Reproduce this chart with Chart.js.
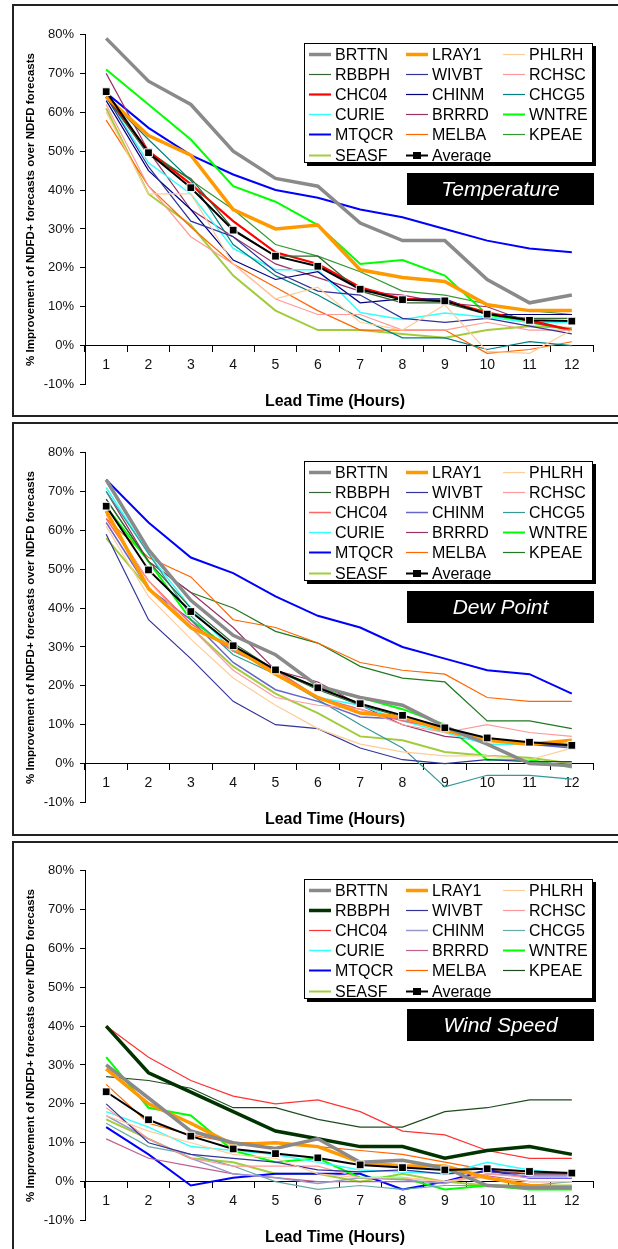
<!DOCTYPE html>
<html>
<head>
<meta charset="utf-8">
<script src="https://cdn.jsdelivr.net/npm/chart.js@4.4.1/dist/chart.umd.min.js"></script>
<style>
    html, body { margin: 0; padding: 0; background: #fff; width: 618px; height: 1249px; overflow: hidden; position: relative; }
    .panel { position: absolute; left: 12px; width: 700px; border: 2px solid #222; box-sizing: border-box; }
    canvas { position: absolute; left: 0; }
</style>
</head>
<body>
<div class="panel" style="top:4px;height:413px"></div>
<div class="panel" style="top:422px;height:414px"></div>
<div class="panel" style="top:841px;height:430px"></div>
<canvas id="temp" width="618" height="418" style="top:5px"></canvas>
<canvas id="dew" width="618" height="418" style="top:423px"></canvas>
<canvas id="wind" width="618" height="418" style="top:841px"></canvas>
<script>
const leadTimes = ['1', '2', '3', '4', '5', '6', '7', '8', '9', '10', '11', '12'];
const stations = ['BRTTN', 'LRAY1', 'PHLRH', 'RBBPH', 'WIVBT', 'RCHSC', 'CHC04', 'CHINM',
                  'CHCG5', 'CURIE', 'BRRRD', 'WNTRE', 'MTQCR', 'MELBA', 'KPEAE', 'SEASF'];
const yMin = -10, yMax = 80, yStep = 10;

// one row per station, same order as `stations`
const temperatureSeries = [
    [79, 68, 62, 50, 43, 41, 31.5, 27, 27, 17, 11, 13],
    [64, 54, 49, 35, 30, 31, 19.5, 17.5, 16.5, 10.5, 9, 9],
    [60, 39, 39, 21, 12, 15, 6, 4, 10.5, -1.5, -2, 4],
    [64, 49, 43, 30, 23, 23, 14, 11, 11, 8, 7, 7],
    [64, 46, 32, 28, 19, 14, 13, 7, 6, 7, 5, 3],
    [62, 41, 28, 21, 12, 8, 8, 4, 4, 6, 4, 4],
    [64, 50, 41.5, 32, 24, 21, 15, 12, 11.5, 8.5, 6.5, 4],
    [63, 45, 35, 22, 17, 19, 11, 12, 12, 8, 8, 8],
    [64, 53, 42.5, 26, 18, 13, 7, 2, 2, -1, 1, 0],
    [64, 47, 39, 25, 19.5, 19.5, 8.5, 6.7, 8.4, 7.3, 6, 6],
    [70, 50, 35, 28, 21, 17.5, 14, 13, 11, 10, 6, 4],
    [71, 62, 53, 41, 37, 31, 21, 22, 18, 8, 6, 4],
    [65, 56, 49, 44, 40, 38, 35, 33, 30, 27, 25, 24],
    [58, 41, 30.5, 21, 15, 9, 4, 4, 4, -2, -1, 1],
    [64, 50, 42.5, 35, 26, 23, 19, 14, 13, 10.7, 9, 8],
    [61, 39, 31, 18, 9, 4, 4, 3, 2, 4, 5, 4.5]
];
const temperatureAverage = [65.3, 49.6, 40.6, 29.7, 23, 20.4, 14.5, 11.8, 11.5, 8.1, 6.5, 6.3];

const dewPointSeries = [
    [73, 55, 42, 33, 28, 20, 17, 15, 9.5, 5, 0, -0.5],
    [65, 45, 35, 30, 23, 17, 13, 12, 8.5, 6, 5, 6],
    [61, 43, 32, 22, 15, 9, 5, 3, 2, 2, 1, 4],
    [68, 52, 40, 31, 24, 19, 15, 12, 9, 6, 5, 4.5],
    [59, 37, 27, 16, 10, 9, 4, 1, 0, 1, 0.5, 0.5],
    [64, 47, 35, 24, 17, 15, 14, 10, 8, 10, 8, 7],
    [63, 47, 36, 29, 24, 17, 14, 11, 9, 6, 5, 5],
    [62, 45, 37, 26, 19, 16, 12, 11.5, 9, 6, 5, 4],
    [70, 54, 38, 28, 23, 16.5, 10, 4, -6, -3, -3, -4],
    [71, 54, 40, 29, 24, 17, 15, 11, 8, 5, 5, 5],
    [70, 52, 44, 35, 24, 21, 15, 10, 7, 6, 5, 4.5],
    [66, 52, 37, 29, 24, 19.5, 17, 14, 10, 1, 1, -1],
    [73, 62, 53, 49, 43, 38, 35, 30, 27, 24, 23, 18],
    [63, 53, 48, 37, 35, 31, 26, 24, 23, 17, 16, 16],
    [68, 52, 44, 40, 34, 31, 25, 22, 21, 11, 11, 9],
    [58, 45, 35, 25, 18, 13, 7, 6, 3, 2, 1.5, 0]
];
const dewPointAverage = [66.2, 49.8, 39.1, 30.3, 24.1, 19.5, 15.4, 12.4, 9.2, 6.6, 5.5, 4.7];

const windSpeedSeries = [
    [30, 21.5, 13, 10, 8.5, 11, 5, 5.5, 3.5, -1, -1.5, -1.5],
    [29, 20, 15, 9.5, 10, 9, 5, 4, 4, 1, -1, -1.5],
    [17, 13, 10, 7, 6, 2, 1, 1, 0, 1, 0, 0],
    [40, 28, 23, 18, 13, 11, 9, 9, 6, 8, 9, 7],
    [20, 10, 7, 6, 5, 3, 2.5, 3, 2, 2.5, 2, 2],
    [19, 11, 6, 4, 4, 4, 1, 1, 0, 2, 1, 1],
    [40, 32, 26, 22, 20, 21, 18, 13, 12, 8, 6, 6],
    [17, 11, 6, 2, 1, -0.5, 1, 0.5, -0.5, 2, 1.5, 1.5],
    [15, 9, 7, 4, 0, -2, -1, -2, -1, -1, -1, 0],
    [18, 14, 9, 8, 7, 5, 3, 2.5, 2, 5, 3, 2],
    [11, 6, 4, 2, 1, 0, 0, 0, 0, 1.5, 0, 0],
    [32, 19, 17, 8, 5, 6, 1, 1, -2, -1, -2, -2],
    [14, 7, -1, 1, 2, 2, 2, -2, 0, 3, 1, 1],
    [25, 15, 12, 10, 10, 9, 8, 7, 5, 3, 2, 2],
    [27, 26, 24, 19, 19, 16, 14, 14, 18, 19, 21, 21],
    [16, 11, 6, 5, 2, 2, 0, 2, 0, -1, -1, -1]
];
const windSpeedAverage = [23.1, 15.9, 11.7, 8.4, 7.2, 6.1, 4.3, 3.6, 3, 3.3, 2.6, 2.2];

// line colour / width per station
const baseStyle = {
    BRTTN: ['#8a8a8a', 3.5], LRAY1: ['#ff9900', 3.5], PHLRH: ['#ffcc99', 1.2],
    RBBPH: ['#336633', 1.2], WIVBT: ['#333399', 1.2], RCHSC: ['#ff9999', 1.2],
    CHC04: ['#ff0000', 2.2], CHINM: ['#000080', 1.2], CHCG5: ['#008080', 1.2],
    CURIE: ['#33ffff', 1.5], BRRRD: ['#993366', 1.2], WNTRE: ['#00ff00', 2],
    MTQCR: ['#0000ff', 2], MELBA: ['#ff6600', 1.2], KPEAE: ['#339933', 1.2],
    SEASF: ['#a3cc3c', 2]
};
const dewStyle = { CHC04: ['#ff6666', 1.5], CHINM: ['#6666cc', 1.5], CHCG5: ['#339999', 1.2], KPEAE: ['#217a21', 1.2] };
const windStyle = { RBBPH: ['#003300', 3.5], CHC04: ['#ff3333', 1.2], CHINM: ['#9999cc', 1.5],
                    CHCG5: ['#66aaaa', 1.2], KPEAE: ['#1f4d1f', 1.2], BRRRD: ['#c06090', 1.2] };

Chart.defaults.font.family = '"Liberation Sans", Arial, sans-serif';
Chart.defaults.color = '#111';

const panelBoxes = {
    id: 'panelBoxes',
    afterDraw(chart, args, opts) {
        const { ctx, chartArea: ca } = chart;
        ctx.save();

        // legend box
        const lw = 289, lh = 120;
        const lx = ca.right - lw, ly = ca.top + 8.5;
        ctx.fillStyle = '#000';
        ctx.fillRect(lx + 3, ly + 3, lw, lh);
        ctx.fillStyle = '#fff';
        ctx.fillRect(lx, ly, lw, lh);
        ctx.strokeStyle = '#000';
        ctx.lineWidth = 1;
        ctx.strokeRect(lx + 0.5, ly + 0.5, lw - 1, lh - 1);

        ctx.font = '16px "Liberation Sans", Arial, sans-serif';
        ctx.textBaseline = 'middle';
        ctx.textAlign = 'left';
        chart.data.datasets.forEach((ds, i) => {
            const row = Math.floor(i / 3), col = i % 3;
            const y = Math.round(ly + 10.5 + row * 20.2) + 0.5;
            const x0 = lx + 5 + col * 97;
            ctx.strokeStyle = ds.borderColor;
            ctx.lineWidth = ds.borderWidth;
            ctx.beginPath();
            ctx.moveTo(x0, y);
            ctx.lineTo(x0 + 22, y);
            ctx.stroke();
            if (ds.pointRadius > 0) {
                ctx.fillStyle = '#000';
                ctx.fillRect(x0 + 7, y - 3.5, 8, 7);
            }
            ctx.fillStyle = '#000';
            ctx.fillText(ds.label, x0 + 26, y + 1);
        });

        // variable name box
        const tw = 187, th = 32;
        const tx = ca.right - tw + 1, ty = ca.top + 138.5;
        ctx.fillStyle = '#000';
        ctx.fillRect(tx, ty, tw, th);
        ctx.fillStyle = '#fff';
        ctx.font = 'italic 21px "Liberation Sans", Arial, sans-serif';
        ctx.textAlign = 'center';
        ctx.fillText(opts.title, tx + tw / 2, ty + th / 2 + 1);

        // x axis title
        ctx.fillStyle = '#000';
        ctx.font = 'bold 16px "Liberation Sans", Arial, sans-serif';
        ctx.fillText('Lead Time (Hours)', (ca.left + ca.right) / 2 - 4, ca.bottom + 17);
        ctx.restore();
    }
};

function makeChart(id, title, series, average, overrides) {
    const datasets = stations.map((name, i) => {
        const st = overrides[name] || baseStyle[name];
        return {
            label: name,
            data: series[i],
            borderColor: st[0],
            backgroundColor: st[0],
            borderWidth: st[1],
            pointRadius: 0,
            tension: 0,
            order: 1
        };
    });
    datasets.push({
        label: 'Average',
        data: average,
        borderColor: '#000',
        backgroundColor: '#000',
        borderWidth: 2,
        pointStyle: 'rect',
        pointRadius: 5.5,
        pointBackgroundColor: '#000',
        pointBorderColor: '#fff',
        pointBorderWidth: 1,
        tension: 0,
        order: 0
    });

    new Chart(document.getElementById(id), {
        type: 'line',
        data: { labels: leadTimes, datasets: datasets },
        options: {
            responsive: false,
            animation: false,
            devicePixelRatio: 1,
            layout: { padding: { left: 0, right: 25, top: 29.5, bottom: 38.5 } },
            plugins: {
                legend: { display: false },
                tooltip: { enabled: false },
                panelBoxes: { title: title }
            },
            scales: {
                x: {
                    type: 'category',
                    position: { y: 0 },
                    offset: true,
                    grid: { offset: true, drawOnChartArea: false, drawTicks: true, tickLength: 6, color: '#000' },
                    border: { display: true, color: '#000', width: 1 },
                    ticks: { font: { size: 14 }, color: '#111', padding: 5, maxRotation: 0 },
                    afterFit: s => { s.height = 0; }
                },
                y: {
                    min: yMin,
                    max: yMax,
                    grid: { drawOnChartArea: false, drawTicks: true, tickLength: 5, color: '#000' },
                    border: { display: true, color: '#000', width: 1 },
                    ticks: { stepSize: yStep, font: { size: 13 }, color: '#111', padding: 6,
                             callback: v => v + '%' },
                    title: {
                        display: true,
                        text: '% Improvement of NDFD+ forecasts over NDFD forecasts',
                        font: { size: 11.5, weight: 'bold' },
                        color: '#000',
                        padding: { top: 24, bottom: 0 }
                    },
                    afterFit: s => { s.width = 85; }
                }
            }
        },
        plugins: [panelBoxes]
    });
}

makeChart('temp', 'Temperature', temperatureSeries, temperatureAverage, {});
makeChart('dew', 'Dew Point', dewPointSeries, dewPointAverage, dewStyle);
makeChart('wind', 'Wind Speed', windSpeedSeries, windSpeedAverage, windStyle);
</script>
</body>
</html>
